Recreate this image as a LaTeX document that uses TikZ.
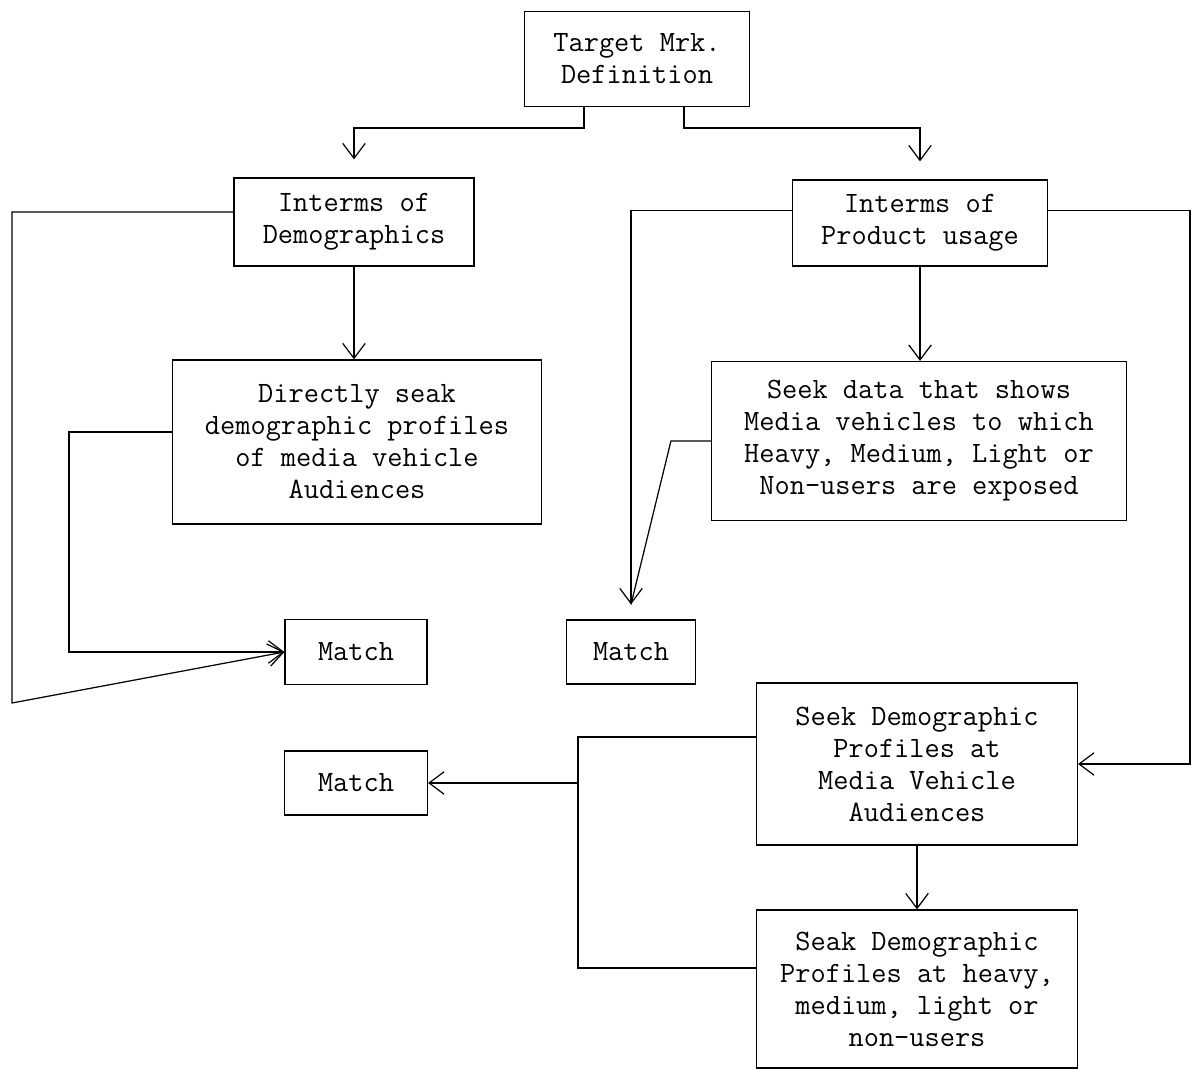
\documentclass[tikz,border=0pt]{standalone}
\usepackage{tikz}
\usetikzlibrary{shapes,arrows.meta,positioning,calc}
\tikzset{
    stepbox/.style={
        rectangle,
        draw=black,
        line width=0.7pt,
        align=center,
        inner sep=0pt,
        font=\ttfamily\fontsize{16.8}{18.2}\selectfont
    },
    flow/.style={
        -{Straight Barb[length=0.3cm,width=0.45cm]},
        line width=0.7pt
    }
}
\begin{document}
\begin{tikzpicture}[x=0.02cm,y=-0.02cm]
\useasboundingbox (0,0) rectangle (1199,1070);

% top
\node[stepbox, minimum width=4.5cm, minimum height=1.9cm] (target) at (637,59) {Target Mrk.\\Definition};

% demographics branch
\node[stepbox, minimum width=4.8cm, minimum height=1.76cm] (demog) at (354,222) {Interms of\\Demographics};
\node[stepbox, minimum width=7.38cm, minimum height=3.28cm] (direct) at (357,442) {Directly seak\\demographic profiles\\of media vehicle\\Audiences};
\node[stepbox, minimum width=2.84cm, minimum height=1.3cm] (match1) at (356,652) {Match};

% product usage branch
\node[stepbox, minimum width=5.1cm, minimum height=1.72cm] (usage) at (920,223) {Interms of\\Product usage};
\node[stepbox, minimum width=8.3cm, minimum height=3.18cm] (seekdata) at (919,441) {Seek data that shows\\Media vehicles to which\\Heavy, Medium, Light or\\Non-users are exposed};
\node[stepbox, minimum width=2.58cm, minimum height=1.28cm] (match2) at (631,652) {Match};

% lower right
\node[stepbox, minimum width=6.42cm, minimum height=3.24cm] (seekdemo) at (917,764) {Seek Demographic\\Profiles at\\Media Vehicle\\Audiences};
\node[stepbox, minimum width=6.42cm, minimum height=3.16cm] (seak) at (917,989) {Seak Demographic\\Profiles at heavy,\\medium, light or\\non-users};
\node[stepbox, minimum width=2.86cm, minimum height=1.28cm] (match3) at (356,783) {Match};

\coordinate (outerL) at (12,703);
\coordinate (jn) at (578,783);

% connectors
\draw[flow, shorten >=0.36cm] ([xshift=-1.06cm]target.south) -- ++(0,-0.42cm) -| (demog.north);
\draw[flow, shorten >=0.36cm] ([xshift=0.94cm]target.south) -- ++(0,-0.42cm) -| (usage.north);
\draw[flow] (demog.south) -- (demog.south |- direct.north);
\draw[flow] (usage.south) -- (usage.south |- seekdata.north);
\draw[flow] ([yshift=0.2cm]demog.west) -| (outerL) -- (match1.west);
\draw[flow] ([yshift=0.2cm]direct.west) -- ++(-2.06cm,0) |- (match1.west);
\draw[flow, shorten >=0.3cm] ([yshift=0.25cm]usage.west) -| (match2.north);
\draw[line width=0.7pt] (seekdata.west) -- ++(-0.8cm,0) -- ([yshift=0.3cm]match2.north);
\draw[flow] ([yshift=0.25cm]usage.east) -- ++(2.84cm,0) |- (seekdemo.east);
\draw[line width=0.7pt] ([yshift=0.54cm]seekdemo.west) -| (jn) |- ([yshift=0.42cm]seak.west);
\draw[flow] (jn) -- (match3.east);
\draw[flow] (seekdemo.south) -- (seak.north);
\end{tikzpicture}
\end{document}
